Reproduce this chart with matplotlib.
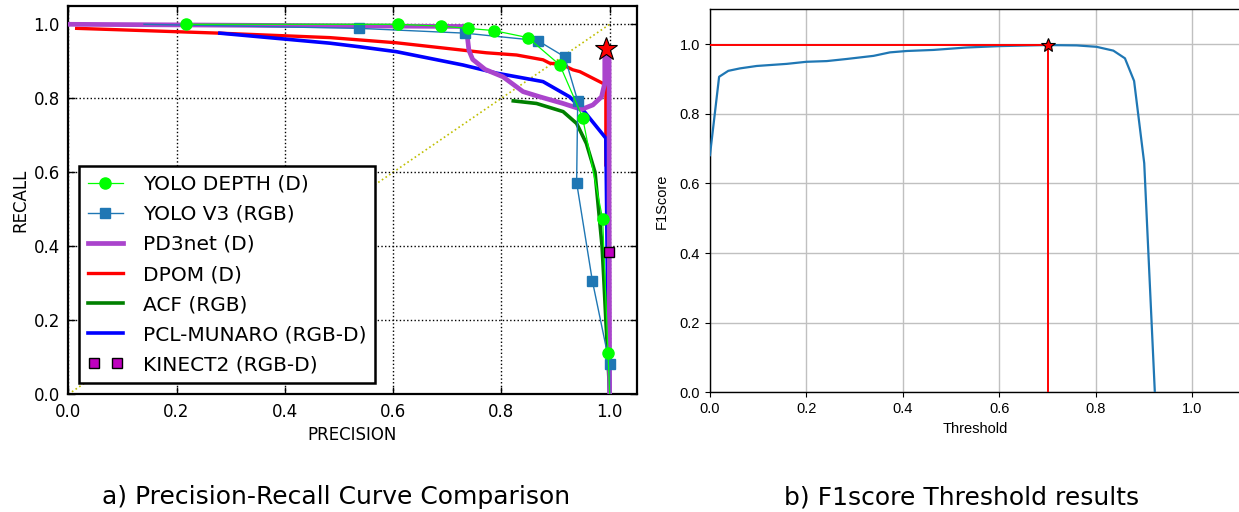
import matplotlib
matplotlib.use("Agg")
import matplotlib.pyplot as plt
from matplotlib.legend_handler import HandlerLine2D

# ---- Precision / recall curves ----
yolo_depth_p = [0.217, 0.609, 0.688, 0.738, 0.786, 0.849, 0.908, 0.950, 0.987, 0.997, 1.000]
yolo_depth_r = [1.000, 1.000, 0.995, 0.989, 0.983, 0.964, 0.890, 0.748, 0.474, 0.111, 0.000]

yolo_v3_p = [0.140, 0.537, 0.733, 0.867, 0.917, 0.941, 0.939, 0.968, 1.000, 1.000]
yolo_v3_r = [1.000, 0.989, 0.976, 0.956, 0.912, 0.793, 0.572, 0.307, 0.081, 0.000]

pd3net_p = [0.000, 0.735, 0.740, 0.747, 0.770, 0.803, 0.840, 0.871, 0.914, 0.948, 0.969,
            0.985, 0.991, 0.991, 0.995, 0.999, 0.999, 1.000]
pd3net_r = [1.000, 0.994, 0.930, 0.905, 0.878, 0.858, 0.818, 0.804, 0.786, 0.770, 0.782,
            0.804, 0.841, 0.912, 0.925, 0.903, 0.525, 0.000]

dpom_p = [0.0155, 0.280, 0.483, 0.606, 0.729, 0.772, 0.828, 0.877, 0.889, 0.914,
          0.932, 0.945, 0.988, 0.993, 0.993]
dpom_r = [0.989, 0.976, 0.964, 0.950, 0.930, 0.923, 0.917, 0.904, 0.895, 0.890,
          0.877, 0.872, 0.840, 0.835, 0.620]

acf_p = [0.822, 0.865, 0.914, 0.939, 0.957, 0.973, 0.986, 0.989, 0.993, 0.996, 1.000]
acf_r = [0.793, 0.786, 0.764, 0.732, 0.678, 0.600, 0.400, 0.318, 0.200, 0.120, 0.000]

pcl_p = [0.280, 0.483, 0.539, 0.606, 0.729, 0.791, 0.877, 0.926, 0.950, 0.993, 0.996, 1.000]
pcl_r = [0.976, 0.949, 0.939, 0.926, 0.890, 0.868, 0.845, 0.804, 0.770, 0.692, 0.300, 0.000]

kinect_p = [0.999]
kinect_r = [0.385]

best_p = [0.993]
best_r = [0.932]

# ---- F1 score vs threshold ----
thresholds = [0.000, 0.019, 0.038, 0.062, 0.097, 0.159, 0.200, 0.242, 0.283, 0.339,
              0.373, 0.408, 0.463, 0.532, 0.601, 0.698, 0.760, 0.801, 0.836, 0.860,
              0.879, 0.900, 0.922]
f1_scores = [0.681, 0.906, 0.923, 0.930, 0.937, 0.943, 0.949, 0.951, 0.957, 0.966,
             0.976, 0.980, 0.983, 0.990, 0.994, 0.997, 0.996, 0.992, 0.981, 0.959,
             0.894, 0.658, 0.000]
best_threshold = 0.70
best_f1 = 0.997

fig = plt.figure(figsize=(12.39, 5.12), dpi=100)

# ---------------- left panel ----------------
ax1 = fig.add_axes([0.0551, 0.2299, 0.4588, 0.7588])
ax1.plot([0, 1], [0, 1], linestyle=":", color="#bfbf00", linewidth=1.2, zorder=1)
h_dpom, = ax1.plot(dpom_p, dpom_r, color="red", linewidth=2.4, label="DPOM (D)", zorder=2)
h_pcl, = ax1.plot(pcl_p, pcl_r, color="blue", linewidth=2.6, label="PCL-MUNARO (RGB-D)", zorder=3)
h_acf, = ax1.plot(acf_p, acf_r, color="green", linewidth=2.6, label="ACF (RGB)", zorder=4)
h_pd3, = ax1.plot(pd3net_p, pd3net_r, color="#aa44cc", linewidth=3.4, label="PD3net (D)", zorder=5)
h_v3, = ax1.plot(yolo_v3_p, yolo_v3_r, color="#1f77b4", linewidth=1.0, marker="s",
                 markersize=7, markevery=list(range(1, len(yolo_v3_p) - 1)),
                 markeredgecolor="#1f77b4", label="YOLO V3 (RGB)", zorder=6)
h_yd, = ax1.plot(yolo_depth_p, yolo_depth_r, color="#00ff00", linewidth=0.9, marker="o",
                 markersize=8, markevery=list(range(0, len(yolo_depth_p) - 1)),
                 markeredgecolor="#00ff00", label="YOLO DEPTH (D)", zorder=7)
h_kin, = ax1.plot(kinect_p, kinect_r, linestyle="None", marker="s", markersize=7,
                  color="#bf00bf", markeredgecolor="black", label="KINECT2 (RGB-D)", zorder=8)
ax1.plot(best_p, best_r, linestyle="None", marker="*", markersize=17, color="red",
         markeredgecolor="black", markeredgewidth=0.8, zorder=9)

ax1.set_xlim(0, 1.05)
ax1.set_ylim(0, 1.05)
ax1.set_xticks([0.0, 0.2, 0.4, 0.6, 0.8, 1.0])
ax1.set_yticks([0.0, 0.2, 0.4, 0.6, 0.8, 1.0])
ax1.grid(True, color="black", linestyle=":", linewidth=1.0)
ax1.tick_params(direction="in", top=True, right=True, length=5, width=1,
                labelsize=12, pad=6)
for sp in ax1.spines.values():
    sp.set_linewidth(1.6)
ax1.set_xlabel("PRECISION", fontsize=12, labelpad=4)
ax1.set_ylabel("RECALL", fontsize=12, labelpad=3)

leg = ax1.legend(handles=[h_yd, h_v3, h_pd3, h_dpom, h_acf, h_pcl, h_kin],
                 handler_map={h_kin: HandlerLine2D(numpoints=2)},
                 loc="lower left", bbox_to_anchor=(0.0194, 0.0283), borderaxespad=0,
                 fontsize=14.5, labelspacing=0.55, handlelength=1.7, handletextpad=1.0,
                 borderpad=0.45, fancybox=False, framealpha=1, edgecolor="black")
leg.get_frame().set_linewidth(1.8)

# ---------------- right panel ----------------
ax2 = fig.add_axes([0.5730, 0.2334, 0.4284, 0.7487])
ax2.set_axisbelow(True)
ax2.grid(True, color="#c0c0c0", linewidth=1.0)
ax2.plot(thresholds, f1_scores, color="#1f77b4", linewidth=1.6, zorder=3)
ax2.plot([0, best_threshold], [best_f1, best_f1], color="red", linewidth=1.4, zorder=4)
ax2.plot([best_threshold, best_threshold], [0, best_f1], color="red", linewidth=1.4, zorder=4)
ax2.plot([best_threshold], [best_f1], linestyle="None", marker="*", markersize=10,
         color="red", markeredgecolor="black", markeredgewidth=0.8, zorder=5)
ax2.set_xlim(0, 1.1)
ax2.set_ylim(0, 1.1)
ax2.set_xticks([0.0, 0.2, 0.4, 0.6, 0.8, 1.0])
ax2.set_yticks([0.0, 0.2, 0.4, 0.6, 0.8, 1.0])
for lbl in ax2.get_xticklabels() + ax2.get_yticklabels():
    lbl.set_family("Liberation Sans")
ax2.tick_params(labelsize=10.5, length=3.5, width=0.8)
for sp in ax2.spines.values():
    sp.set_linewidth(1.0)
    sp.set_color("black")
ax2.set_xlabel("Threshold", fontsize=10.5, family="Liberation Sans")
ax2.set_ylabel("F1Score", fontsize=10.5, family="Liberation Sans", labelpad=8)

# ---------------- captions ----------------
fig.text(336.5 / 1239, 1 - 497 / 512, "a) Precision-Recall Curve Comparison",
         ha="center", va="center", fontsize=18)
fig.text(961.5 / 1239, 1 - 497 / 512, "b) F1score Threshold results",
         ha="center", va="center", fontsize=18)

fig.savefig("out.png", dpi=100)
